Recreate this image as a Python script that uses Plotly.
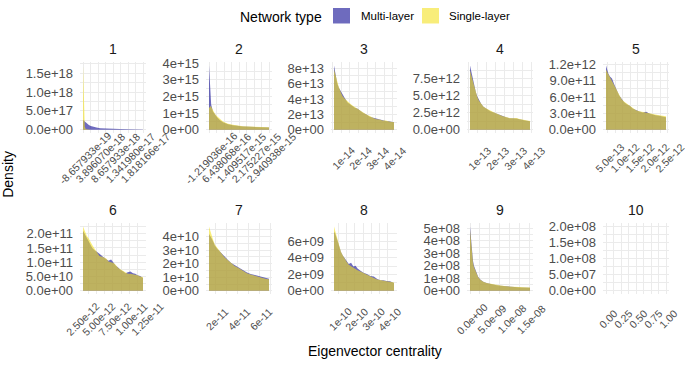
import plotly.graph_objects as go

# ---------------- data ----------------
panel_names = ["1", "2", "3", "4", "5", "6", "7", "8", "9", "10"]
series_names = ["Multi-layer", "Single-layer"]

x1 = [-8.657933e-19, -0.7e-18, -0.5e-18, -0.3e-18, 0.0, 0.4e-18, 1.0e-18, 1.6e-18, 2.5e-18,
      3.4e-18, 4.6e-18, 6.2e-18, 7.7e-18, 10.8e-18, 13.9e-18, 1.818166e-17]
multi1 = [2.6e17, 2.55e17, 2.4e17, 2.2e17, 1.95e17, 1.7e17, 1.3e17, 1.0e17, 0.75e17,
          0.6e17, 0.45e17, 0.35e17, 0.3e17, 0.22e17, 0.15e17, 0.1e17]
single1 = [1.7e18, 1.2e18, 0.4e18, 0.08e18, 0.02e18, 0.01e18, 0.008e18, 0.006e18, 0.005e18,
           0.005e18, 0.004e18, 0.004e18, 0.003e18, 0.003e18, 0.002e18, 0.002e18]

x2 = [-1.219036e-16, -0.9e-16, -0.5e-16, -0.1e-16, 0.8e-16, 1.8e-16, 2.9e-16, 4.4e-16,
      5.9e-16, 8.5e-16, 11.0e-16, 16.1e-16, 23.3e-16, 2.940938e-15]
multi2 = [3.85e15, 3.1e15, 2.2e15, 1.5e15, 1.1e15, 0.9e15, 0.75e15, 0.58e15,
          0.45e15, 0.33e15, 0.27e15, 0.2e15, 0.16e15, 0.14e15]
single2 = [1.3e15, 1.4e15, 1.42e15, 1.38e15, 1.15e15, 0.97e15, 0.82e15, 0.65e15,
           0.5e15, 0.37e15, 0.3e15, 0.22e15, 0.17e15, 0.15e15]

x3 = [0.58e-14, 0.64e-14, 0.69e-14, 0.77e-14, 0.86e-14, 0.97e-14, 1.08e-14, 1.22e-14, 1.37e-14,
      1.51e-14, 1.65e-14, 1.79e-14, 1.93e-14, 2.10e-14, 2.26e-14, 2.46e-14, 2.66e-14, 2.86e-14,
      3.05e-14, 3.22e-14, 3.39e-14, 3.58e-14, 3.78e-14, 3.92e-14, 4.06e-14]
multi3 = [8.33e13, 7.5e13, 6.8e13, 6.0e13, 5.45e13, 5.0e13, 4.5e13, 4.05e13, 3.55e13,
          3.3e13, 3.05e13, 2.85e13, 2.75e13, 2.45e13, 2.2e13, 2.0e13, 1.7e13, 1.58e13,
          1.45e13, 1.3e13, 1.28e13, 1.15e13, 1.12e13, 1.05e13, 1.0e13]
single3 = [7.8e13, 7.3e13, 6.7e13, 6.15e13, 5.55e13, 4.9e13, 4.35e13, 4.0e13, 3.65e13,
           3.4e13, 3.15e13, 2.95e13, 2.72e13, 2.55e13, 2.3e13, 2.0e13, 1.8e13, 1.52e13,
           1.38e13, 1.35e13, 1.22e13, 1.2e13, 1.08e13, 1.06e13, 0.98e13]

x4 = [0.56e-13, 0.64e-13, 0.72e-13, 0.80e-13, 0.88e-13, 0.96e-13, 1.05e-13, 1.18e-13, 1.31e-13,
      1.50e-13, 1.69e-13, 1.88e-13, 2.07e-13, 2.23e-13, 2.39e-13, 2.57e-13, 2.76e-13, 2.95e-13,
      3.14e-13, 3.32e-13, 3.50e-13, 3.70e-13, 3.90e-13]
multi4 = [9.45e12, 8.4e12, 7.3e12, 6.3e12, 5.6e12, 4.95e12, 4.4e12, 3.85e12, 3.4e12,
          3.05e12, 2.75e12, 2.55e12, 2.35e12, 2.1e12, 1.95e12, 1.85e12, 1.72e12, 1.7e12,
          1.68e12, 1.55e12, 1.42e12, 1.35e12, 1.25e12]
single4 = [8.7e12, 7.9e12, 7.0e12, 6.1e12, 5.4e12, 4.85e12, 4.3e12, 3.8e12, 3.4e12,
           3.1e12, 2.9e12, 2.6e12, 2.35e12, 2.15e12, 2.0e12, 1.9e12, 1.75e12, 1.72e12,
           1.75e12, 1.6e12, 1.5e12, 1.4e12, 1.3e12]

x5 = [0.45e-12, 0.49e-12, 0.53e-12, 0.58e-12, 0.65e-12, 0.72e-12, 0.81e-12, 0.89e-12, 0.97e-12,
      1.05e-12, 1.14e-12, 1.24e-12, 1.34e-12, 1.45e-12, 1.56e-12, 1.68e-12, 1.79e-12, 1.89e-12,
      1.99e-12, 2.10e-12, 2.22e-12, 2.34e-12, 2.45e-12]
multi5 = [11.8e11, 11.0e11, 10.3e11, 9.8e11, 9.4e11, 8.4e11, 7.3e11, 6.3e11, 5.7e11,
          5.1e11, 4.7e11, 4.4e11, 3.9e11, 3.6e11, 3.35e11, 3.2e11, 3.3e11, 3.0e11,
          2.8e11, 2.7e11, 2.6e11, 2.4e11, 2.3e11]
single5 = [11.0e11, 10.6e11, 10.2e11, 9.6e11, 9.0e11, 8.2e11, 7.2e11, 6.5e11, 5.6e11,
           5.2e11, 4.8e11, 4.4e11, 4.0e11, 3.6e11, 3.4e11, 3.25e11, 3.1e11, 3.0e11,
           2.9e11, 2.75e11, 2.7e11, 2.6e11, 2.5e11]

x6 = [2.86e-12, 3.1e-12, 3.46e-12, 3.7e-12, 3.91e-12, 4.3e-12, 4.66e-12, 5.0e-12, 5.41e-12,
      5.9e-12, 6.46e-12, 6.8e-12, 7.21e-12, 7.6e-12, 7.95e-12, 8.3e-12, 8.70e-12, 9.1e-12,
      9.45e-12, 9.8e-12, 10.2e-12, 10.6e-12, 10.95e-12, 11.3e-12, 11.7e-12, 12.15e-12]
multi6 = [2.1e11, 2.0e11, 1.85e11, 1.72e11, 1.62e11, 1.5e11, 1.42e11, 1.35e11, 1.3e11,
          1.2e11, 1.12e11, 1.05e11, 1.1e11, 0.98e11, 0.88e11, 0.82e11, 0.73e11, 0.68e11,
          0.62e11, 0.65e11, 0.68e11, 0.62e11, 0.6e11, 0.55e11, 0.52e11, 0.45e11]
single6 = [2.25e11, 2.1e11, 1.92e11, 1.85e11, 1.75e11, 1.6e11, 1.47e11, 1.35e11, 1.22e11,
           1.18e11, 1.13e11, 1.03e11, 1.0e11, 0.97e11, 0.9e11, 0.8e11, 0.75e11, 0.7e11,
           0.64e11, 0.6e11, 0.6e11, 0.58e11, 0.56e11, 0.55e11, 0.5e11, 0.48e11]

x7 = [1.45e-11, 1.58e-11, 1.71e-11, 1.85e-11, 1.98e-11, 2.2e-11, 2.42e-11, 2.64e-11, 2.86e-11,
      3.15e-11, 3.47e-11, 3.78e-11, 4.09e-11, 4.35e-11, 4.61e-11, 4.9e-11, 5.23e-11, 5.55e-11,
      5.84e-11, 6.1e-11, 6.37e-11, 6.65e-11, 6.9e-11]
multi7 = [4.2e10, 4.05e10, 3.85e10, 3.6e10, 3.35e10, 3.1e10, 2.9e10, 2.75e10, 2.55e10,
          2.3e10, 2.05e10, 1.9e10, 1.75e10, 1.62e10, 1.48e10, 1.35e10, 1.25e10, 1.18e10,
          1.12e10, 1.05e10, 1.0e10, 0.95e10, 0.9e10]
single7 = [4.75e10, 4.35e10, 4.0e10, 3.7e10, 3.42e10, 3.15e10, 2.95e10, 2.7e10, 2.48e10,
           2.25e10, 2.0e10, 1.83e10, 1.7e10, 1.55e10, 1.45e10, 1.3e10, 1.2e10, 1.12e10,
           1.08e10, 1.0e10, 0.95e10, 0.88e10, 0.85e10]

x8 = [0.75e-10, 0.83e-10, 0.91e-10, 0.99e-10, 1.08e-10, 1.17e-10, 1.28e-10, 1.40e-10, 1.52e-10,
      1.64e-10, 1.78e-10, 1.92e-10, 2.05e-10, 2.17e-10, 2.35e-10, 2.53e-10, 2.73e-10, 2.94e-10,
      3.15e-10, 3.36e-10, 3.55e-10, 3.72e-10, 3.92e-10, 4.13e-10, 4.37e-10]
multi8 = [7.2e9, 6.9e9, 6.4e9, 5.8e9, 5.2e9, 4.7e9, 4.3e9, 3.9e9, 3.55e9,
          3.25e9, 3.4e9, 2.95e9, 3.05e9, 2.7e9, 2.45e9, 2.2e9, 2.05e9, 1.8e9,
          1.75e9, 1.45e9, 1.3e9, 1.3e9, 1.2e9, 1.15e9, 0.95e9]
single8 = [7.8e9, 7.2e9, 6.5e9, 5.9e9, 5.3e9, 4.75e9, 4.3e9, 3.85e9, 3.5e9,
           3.15e9, 2.95e9, 2.8e9, 2.65e9, 2.5e9, 2.35e9, 2.15e9, 1.95e9, 1.75e9,
           1.55e9, 1.38e9, 1.28e9, 1.2e9, 1.15e9, 1.1e9, 1.0e9]

x9 = [0.0, 0.01e-8, 0.025e-8, 0.045e-8, 0.075e-8, 0.1e-8, 0.13e-8, 0.165e-8, 0.205e-8, 0.26e-8,
      0.335e-8, 0.42e-8, 0.515e-8, 0.64e-8, 0.77e-8, 0.93e-8, 1.1e-8, 1.3e-8, 1.515e-8]
multi9 = [5.15e8, 4.8e8, 3.9e8, 3.1e8, 2.4e8, 2.0e8, 1.7e8, 1.38e8, 1.12e8, 0.9e8,
          0.72e8, 0.62e8, 0.54e8, 0.47e8, 0.4e8, 0.35e8, 0.31e8, 0.27e8, 0.24e8]
single9 = [4.9e8, 4.5e8, 3.6e8, 2.85e8, 2.25e8, 1.9e8, 1.62e8, 1.32e8, 1.1e8, 0.88e8,
           0.72e8, 0.63e8, 0.56e8, 0.48e8, 0.42e8, 0.36e8, 0.32e8, 0.28e8, 0.26e8]

# panel 10 holds no density, only its (empty) scale limits
x10_limits = [0.0, 1.0]
y10_limits = [0.0, 2.0e8]

# tick values and labels
xt = [
    [-8.657933e-19, 3.896070e-18, 8.657933e-18, 1.341980e-17, 1.818166e-17],
    [-1.219036e-16, 6.438068e-16, 1.409517e-15, 2.175227e-15, 2.940938e-15],
    [1e-14, 2e-14, 3e-14, 4e-14],
    [1e-13, 2e-13, 3e-13, 4e-13],
    [5e-13, 1e-12, 1.5e-12, 2e-12, 2.5e-12],
    [2.5e-12, 5e-12, 7.5e-12, 1e-11, 1.25e-11],
    [2e-11, 4e-11, 6e-11],
    [1e-10, 2e-10, 3e-10, 4e-10],
    [0.0, 5e-9, 1e-8, 1.5e-8],
    [0.0, 0.25, 0.5, 0.75, 1.0],
]
xl = [
    ["-8.657933e-19", "3.896070e-18", "8.657933e-18", "1.341980e-17", "1.818166e-17"],
    ["-1.219036e-16", "6.438068e-16", "1.409517e-15", "2.175227e-15", "2.940938e-15"],
    ["1e-14", "2e-14", "3e-14", "4e-14"],
    ["1e-13", "2e-13", "3e-13", "4e-13"],
    ["5.0e-13", "1.0e-12", "1.5e-12", "2.0e-12", "2.5e-12"],
    ["2.50e-12", "5.00e-12", "7.50e-12", "1.00e-11", "1.25e-11"],
    ["2e-11", "4e-11", "6e-11"],
    ["1e-10", "2e-10", "3e-10", "4e-10"],
    ["0.0e+00", "5.0e-09", "1.0e-08", "1.5e-08"],
    ["0.00", "0.25", "0.50", "0.75", "1.00"],
]
yt = [
    [0.0, 5e17, 1e18, 1.5e18],
    [0.0, 1e15, 2e15, 3e15, 4e15],
    [0.0, 2e13, 4e13, 6e13, 8e13],
    [0.0, 2.5e12, 5e12, 7.5e12],
    [0.0, 3e11, 6e11, 9e11, 1.2e12],
    [0.0, 5e10, 1e11, 1.5e11, 2e11],
    [0.0, 1e10, 2e10, 3e10, 4e10],
    [0.0, 2e9, 4e9, 6e9],
    [0.0, 1e8, 2e8, 3e8, 4e8, 5e8],
    [0.0, 5e7, 1e8, 1.5e8, 2e8],
]
yl = [
    ["0.0e+00", "5.0e+17", "1.0e+18", "1.5e+18"],
    ["0e+00", "1e+15", "2e+15", "3e+15", "4e+15"],
    ["0e+00", "2e+13", "4e+13", "6e+13", "8e+13"],
    ["0.0e+00", "2.5e+12", "5.0e+12", "7.5e+12"],
    ["0.0e+00", "3.0e+11", "6.0e+11", "9.0e+11", "1.2e+12"],
    ["0.0e+00", "5.0e+10", "1.0e+11", "1.5e+11", "2.0e+11"],
    ["0e+00", "1e+10", "2e+10", "3e+10", "4e+10"],
    ["0e+00", "2e+09", "4e+09", "6e+09"],
    ["0e+00", "1e+08", "2e+08", "3e+08", "4e+08", "5e+08"],
    ["0.0e+00", "5.0e+07", "1.0e+08", "1.5e+08", "2.0e+08"],
]

xs = [x1, x2, x3, x4, x5, x6, x7, x8, x9, None]
multis = [multi1, multi2, multi3, multi4, multi5, multi6, multi7, multi8, multi9, None]
singles = [single1, single2, single3, single4, single5, single6, single7, single8, single9, None]

# ---------------- style ----------------
W, H = 685, 365
FONT = "Liberation Sans, Arial, sans-serif"
MULTI_COLOR = "rgba(13,8,147,0.6)"
SINGLE_COLOR = "rgba(243,225,33,0.6)"
GRID = "#EBEBEB"
TICK_COLOR = "#4D4D4D"
col_px = [(80, 146), (206, 272), (331, 397), (467, 533), (603, 669)]
row_px = [(57, 130), (223, 296)]


def px_x(p):
    return p / W


def px_y(p):
    return 1 - p / H


def expand(lo, hi):
    d = hi - lo
    return [lo - 0.05 * d, hi + 0.05 * d]


def minor_vals(ticks, rng):
    if len(ticks) < 2:
        return []
    step = ticks[1] - ticks[0]
    cand = [ticks[0] - step / 2] + [(a + b) / 2 for a, b in zip(ticks[:-1], ticks[1:])] + [ticks[-1] + step / 2]
    return [v for v in cand if rng[0] <= v <= rng[1]]


fig = go.Figure()
annotations = []

for i in range(10):
    k = i + 1
    r, c = divmod(i, 5)
    sx = "" if k == 1 else str(k)
    xref, yref = "x" + sx, "y" + sx

    if xs[i] is not None:
        fig.add_trace(go.Scatter(x=xs[i], y=multis[i], mode="lines", fill="tozeroy",
                                 fillcolor=MULTI_COLOR, line=dict(width=0, color=MULTI_COLOR),
                                 name=series_names[0], showlegend=False, hoverinfo="skip",
                                 xaxis=xref, yaxis=yref))
        fig.add_trace(go.Scatter(x=xs[i], y=singles[i], mode="lines", fill="tozeroy",
                                 fillcolor=SINGLE_COLOR, line=dict(width=0, color=SINGLE_COLOR),
                                 name=series_names[1], showlegend=False, hoverinfo="skip",
                                 xaxis=xref, yaxis=yref))
        xr = expand(min(xs[i]), max(xs[i]))
        yr = expand(0.0, max(max(multis[i]), max(singles[i])))
    else:
        fig.add_trace(go.Scatter(x=[], y=[], mode="lines", showlegend=False,
                                 xaxis=xref, yaxis=yref))
        xr = expand(*x10_limits)
        yr = expand(*y10_limits)

    x0, x1p = col_px[c]
    y0, y1p = row_px[r]
    fig.layout["xaxis" + sx] = dict(
        domain=[px_x(x0), px_x(x1p)], anchor=yref, range=xr,
        tickvals=xt[i], showticklabels=False, ticks="",
        showgrid=True, gridcolor=GRID, gridwidth=1.1, zeroline=False, showline=False,
        minor=dict(tickvals=minor_vals(xt[i], xr), showgrid=True, gridcolor=GRID, gridwidth=0.55),
        fixedrange=True,
    )
    fig.layout["yaxis" + sx] = dict(
        domain=[px_y(y1p), px_y(y0)], anchor=xref, range=yr,
        tickvals=yt[i], ticktext=yl[i], ticks="", ticklabelstandoff=6,
        tickfont=dict(family=FONT, size=13, color=TICK_COLOR),
        showgrid=True, gridcolor=GRID, gridwidth=1.1, zeroline=False, showline=False,
        minor=dict(tickvals=minor_vals(yt[i], yr), showgrid=True, gridcolor=GRID, gridwidth=0.55),
        fixedrange=True,
    )
    # rotated x tick labels, centred on each tick (ggplot style)
    for v, t in zip(xt[i], xl[i]):
        annotations.append(dict(x=v, xref=xref, y=px_y(y1p), yref="paper", text=t,
                                textangle=-45, xanchor="center", yanchor="middle",
                                xshift=2, yshift=-25, showarrow=False,
                                font=dict(family=FONT, size=10.5, color=TICK_COLOR)))
    # strip title
    annotations.append(dict(x=px_x((x0 + x1p) / 2), xref="paper", y=px_y(y0 - 14), yref="paper",
                            text=panel_names[i], showarrow=False, xanchor="center", yanchor="middle",
                            font=dict(family=FONT, size=14, color="#1A1A1A")))

# axis titles
annotations.append(dict(x=px_x(8), y=px_y(173), xref="paper", yref="paper", text="Density",
                        textangle=-90, showarrow=False, xanchor="center", yanchor="middle",
                        font=dict(family=FONT, size=14, color="#000000")))
annotations.append(dict(x=px_x(375), y=px_y(355), xref="paper", yref="paper",
                        text="Eigenvector centrality", showarrow=False,
                        xanchor="center", yanchor="middle",
                        font=dict(family=FONT, size=14, color="#000000")))

# legend (drawn ggplot-style at the top)
annotations.append(dict(x=px_x(324), y=px_y(10), xref="paper", yref="paper", text="Network type",
                        showarrow=False, xanchor="right", yanchor="middle",
                        font=dict(family=FONT, size=14, color="#000000")))
annotations.append(dict(x=px_x(359), y=px_y(9), xref="paper", yref="paper", text=series_names[0],
                        showarrow=False, xanchor="left", yanchor="middle",
                        font=dict(family=FONT, size=11.5, color="#000000")))
annotations.append(dict(x=px_x(447), y=px_y(9), xref="paper", yref="paper", text=series_names[1],
                        showarrow=False, xanchor="left", yanchor="middle",
                        font=dict(family=FONT, size=11.5, color="#000000")))
shapes = [
    dict(type="rect", xref="paper", yref="paper", x0=px_x(333), x1=px_x(350), y0=px_y(17), y1=px_y(1),
         fillcolor=MULTI_COLOR, line=dict(width=0)),
    dict(type="rect", xref="paper", yref="paper", x0=px_x(422), x1=px_x(439), y0=px_y(17), y1=px_y(1),
         fillcolor=SINGLE_COLOR, line=dict(width=0)),
]

fig.update_layout(width=W, height=H, autosize=False,
                  margin=dict(l=0, r=0, t=0, b=0),
                  paper_bgcolor="white", plot_bgcolor="white",
                  showlegend=False, annotations=annotations, shapes=shapes,
                  font=dict(family=FONT))

# remove the browser's default 8px page margin so the figure sits at the window's origin
fig.write_html("out.html",
               config={"displayModeBar": False},
               post_script="document.body.style.margin='0';document.body.style.overflow='hidden';")
